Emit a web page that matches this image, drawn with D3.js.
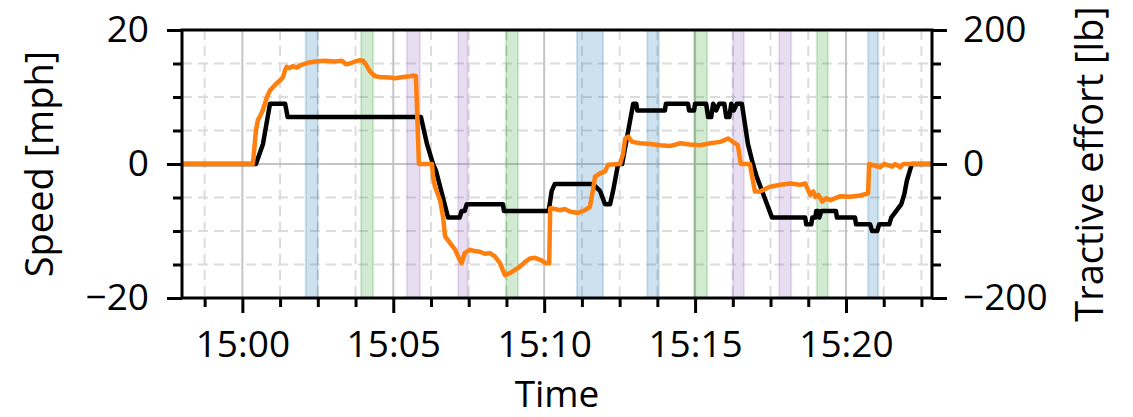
<!DOCTYPE html>
<html>
<head>
<meta charset="utf-8">
<script src="https://cdn.jsdelivr.net/npm/d3@7"></script>
<style>
  body { margin: 0; background: #fff; }
  text { font-family: "Open Sans", sans-serif; fill: #000; }
</style>
</head>
<body>
<svg id="svg" width="1133" height="417"></svg>
<script>
// speed trace (black, left axis)
const speedTimes = ["14:58:00","15:00:27","15:00:41","15:00:55","15:01:25","15:01:30","15:05:55","15:06:07",
  "15:06:19","15:06:25","15:06:49","15:07:12","15:07:16","15:07:22","15:07:26","15:08:38","15:08:40",
  "15:10:09","15:10:15","15:10:21","15:11:37","15:11:51","15:12:01","15:12:11","15:12:17","15:12:27",
  "15:12:35","15:12:57","15:13:03","15:13:05","15:14:00","15:14:02","15:14:46","15:14:48","15:14:58",
  "15:15:00","15:15:22","15:15:26","15:15:32","15:15:36","15:15:42","15:15:48","15:15:58","15:16:02",
  "15:16:08","15:16:12","15:16:17","15:16:23","15:16:33","15:16:45","15:16:55","15:17:03","15:17:33",
  "15:18:39","15:18:41","15:18:51","15:18:53","15:18:59","15:19:01","15:19:05","15:19:07","15:19:11",
  "15:19:40","15:19:42","15:20:18","15:20:20","15:20:48","15:20:52","15:21:02","15:21:06","15:21:26",
  "15:21:30","15:21:40","15:21:50","15:21:56","15:22:01","15:22:07","15:22:11","15:22:51"];
const speedMph = [0,0,3,9,9,7,7,3,
  0,-1,-8,-8,-7,-7,-6,-6,-7,
  -7,-4,-3,-3,-4,-6,-6,-4,0,
  0,9,9,8,8,9,9,8,8,
  9,9,7,7,9,8,9,9,7,
  7,9,8,9,9,3,0,-2,-8,
  -8,-9,-9,-8,-8,-7,-7,-8,-7,
  -7,-8,-8,-9,-9,-10,-10,-9,-9,
  -8,-7,-6,-4.5,-2.5,-1,0,0];

// tractive effort trace (orange, right axis)
const effortTimes = ["14:58:00","15:00:21","15:00:27","15:00:31","15:00:35","15:00:41","15:00:49","15:00:55",
  "15:01:05","15:01:15","15:01:21","15:01:25","15:01:28","15:01:34","15:01:40","15:01:48","15:01:58",
  "15:02:10","15:02:24","15:02:44","15:03:04","15:03:18","15:03:26","15:03:34","15:03:44","15:03:54",
  "15:04:00","15:04:06","15:04:14","15:04:24","15:04:33","15:04:53","15:05:03","15:05:13","15:05:33",
  "15:05:41","15:05:45","15:05:51","15:06:17","15:06:19","15:06:23","15:06:33","15:06:39","15:06:43",
  "15:06:53","15:07:03","15:07:12","15:07:16","15:07:22","15:07:32","15:07:42","15:07:52","15:08:02",
  "15:08:12","15:08:22","15:08:32","15:08:42","15:08:52","15:09:02","15:09:12","15:09:22","15:09:32",
  "15:09:42","15:09:52","15:10:04","15:10:10","15:10:12","15:10:21","15:10:31","15:10:41","15:10:51",
  "15:11:07","15:11:21","15:11:31","15:11:37","15:11:41","15:11:51","15:12:01","15:12:07","15:12:31",
  "15:12:37","15:12:41","15:12:47","15:12:55","15:13:11","15:13:31","15:13:51","15:14:11","15:14:31",
  "15:14:50","15:15:10","15:15:30","15:15:50","15:16:06","15:16:19","15:16:25","15:16:31","15:16:49",
  "15:16:59","15:17:09","15:17:29","15:17:49","15:18:09","15:18:29","15:18:39","15:18:49","15:18:55",
  "15:18:59","15:19:05","15:19:13","15:19:21","15:19:29","15:19:49","15:20:08","15:20:28","15:20:44",
  "15:20:46","15:21:08","15:21:16","15:21:32","15:21:38","15:21:48","15:21:54","15:22:51"];
const effortLb = [0,0,50,66,71,81,100,110,
  118,125,130,140,145,143,146,144,148,
  151,153,154,153,154,149,150,153,155,
  154,148,138,131,130,129,128,129,131,
  132,131,0,0,-19,-34,-54,-79,-108,
  -118,-128,-143,-148,-133,-128,-130,-131,-134,
  -133,-138,-148,-166,-163,-158,-153,-146,-141,
  -140,-143,-148,-148,-66,-67,-69,-67,-71,
  -73,-69,-64,-39,-19,-14,-11,-1,0,
  16,38,41,33,31,30,28,27,31,
  29,28,31,33,38,31,28,0,0,
  -41,-41,-34,-31,-29,-31,-29,-46,-41,
  -49,-46,-56,-51,-54,-48,-49,-47,-44,
  0,-5,0,-4,0,-5,0,0];

// shaded intervals
const bandStart = ["15:02:06","15:03:56","15:05:27","15:07:09","15:08:44","15:11:05",
  "15:13:25","15:14:58","15:16:15","15:17:47","15:19:02","15:20:44"];
const bandEnd = ["15:02:30","15:04:20","15:05:53","15:07:28","15:09:08","15:11:57",
  "15:13:48","15:15:24","15:16:37","15:18:11","15:19:24","15:21:04"];
const bandGroup = ["a","b","c","c","b","a","a","b","c","c","b","a"];

const xLimits = ["14:58:00", "15:22:51"];
const speedTicks = [-20, 0, 20];
const effortTicks = [-200, 0, 200];

const groupColor = {a: "#1f77b4", b: "#2ca02c", c: "#9467bd"};
const parse = d3.timeParse("%H:%M:%S");

const W = 1133, H = 417;
const m = {left: 182, right: 201, top: 30, bottom: 119};
const svg = d3.select("svg#svg");

const x = d3.scaleTime().domain(xLimits.map(parse)).range([m.left, W - m.right]);
const y = d3.scaleLinear().domain([-20, 20]).range([H - m.bottom, m.top]);
const y2 = d3.scaleLinear().domain([-200, 200]).range([H - m.bottom, m.top]);

// ticks: major every 5 min, minor every 75 s
const t0 = parse("15:00:00").getTime();
const [xa, xb] = x.domain();
const majorX = d3.timeMinute.every(5).range(xa, xb);
const minorX = d3.range(-4, 24).map(i => new Date(t0 + i * 75000))
    .filter(d => d >= xa && d <= xb && !majorX.some(t => +t === +d));
const minorY = d3.range(-20, 21, 5).filter(v => !speedTicks.includes(v));

// grid
const grid = svg.append("g");
grid.selectAll("line.minx").data(minorX).enter().append("line")
    .attr("x1", d => x(d)).attr("x2", d => x(d)).attr("y1", m.top).attr("y2", H - m.bottom)
    .attr("stroke", "#dcdcdc").attr("stroke-width", 2).attr("stroke-dasharray", "10,6");
grid.selectAll("line.miny").data(minorY).enter().append("line")
    .attr("y1", d => y(d)).attr("y2", d => y(d)).attr("x1", m.left).attr("x2", W - m.right)
    .attr("stroke", "#dcdcdc").attr("stroke-width", 2).attr("stroke-dasharray", "10,6");
grid.selectAll("line.majx").data(majorX).enter().append("line")
    .attr("x1", d => x(d)).attr("x2", d => x(d)).attr("y1", m.top).attr("y2", H - m.bottom)
    .attr("stroke", "#c4c4c4").attr("stroke-width", 2);
grid.selectAll("line.majy").data(speedTicks).enter().append("line")
    .attr("y1", d => y(d)).attr("y2", d => y(d)).attr("x1", m.left).attr("x2", W - m.right)
    .attr("stroke", "#c4c4c4").attr("stroke-width", 2);

// bands
svg.append("g").selectAll("rect").data(bandStart.map((s, i) => ({s: parse(s), e: parse(bandEnd[i]), g: bandGroup[i]})))
    .enter().append("rect")
    .attr("x", d => x(d.s)).attr("width", d => x(d.e) - x(d.s))
    .attr("y", m.top).attr("height", H - m.bottom - m.top)
    .attr("fill", d => groupColor[d.g]).attr("fill-opacity", 0.22)
    .attr("stroke", d => groupColor[d.g]).attr("stroke-opacity", 0.2).attr("stroke-width", 2);

// traces
const clip = svg.append("clipPath").attr("id", "clip").append("rect")
    .attr("x", m.left).attr("y", m.top).attr("width", W - m.left - m.right).attr("height", H - m.top - m.bottom);
const speed = speedTimes.map((t, i) => [parse(t), speedMph[i]]);
const effort = effortTimes.map((t, i) => [parse(t), effortLb[i]]);
svg.append("path").datum(speed).attr("clip-path", "url(#clip)")
    .attr("d", d3.line().x(d => x(d[0])).y(d => y(d[1])))
    .attr("fill", "none").attr("stroke", "#000").attr("stroke-width", 4.5).attr("stroke-linejoin", "round");
svg.append("path").datum(effort).attr("clip-path", "url(#clip)")
    .attr("d", d3.line().x(d => x(d[0])).y(d => y2(d[1])))
    .attr("fill", "none").attr("stroke", "#ff7f0e").attr("stroke-width", 4.5).attr("stroke-linejoin", "round");

// axes
function style(g) {
    g.select(".domain").remove();
    g.selectAll("line").attr("stroke", "#000").attr("stroke-width", 3);
    g.selectAll("text").attr("font-size", 37).attr("font-family", "Open Sans");
}
const fmt = d3.timeFormat("%H:%M");
const minus = v => v < 0 ? "\u2212" + Math.abs(v) : String(v);

svg.append("g").attr("transform", `translate(0,${H - m.bottom})`)
    .call(d3.axisBottom(x).tickValues(minorX).tickSize(9).tickFormat(""))
    .call(style);
svg.append("g").attr("transform", `translate(0,${H - m.bottom})`)
    .call(d3.axisBottom(x).tickValues(majorX).tickSize(15).tickPadding(18).tickFormat(fmt))
    .call(style);
svg.append("g").attr("transform", `translate(${m.left},0)`)
    .call(d3.axisLeft(y).tickValues(minorY).tickSize(9).tickFormat(""))
    .call(style);
svg.append("g").attr("transform", `translate(${m.left},0)`)
    .call(d3.axisLeft(y).tickValues(speedTicks).tickSize(15).tickPadding(18).tickFormat(minus))
    .call(style);
svg.append("g").attr("transform", `translate(${W - m.right},0)`)
    .call(d3.axisRight(y2).tickValues(minorY.map(v => v * 10)).tickSize(9).tickFormat(""))
    .call(style);
svg.append("g").attr("transform", `translate(${W - m.right},0)`)
    .call(d3.axisRight(y2).tickValues(effortTicks).tickSize(15).tickPadding(16).tickFormat(minus))
    .call(style);

// frame
svg.append("rect").attr("x", m.left).attr("y", m.top)
    .attr("width", W - m.left - m.right).attr("height", H - m.top - m.bottom)
    .attr("fill", "none").attr("stroke", "#000").attr("stroke-width", 3);

// labels
svg.append("text").attr("transform", `translate(53,${(m.top + H - m.bottom) / 2}) rotate(-90)`)
    .attr("text-anchor", "middle").attr("font-size", 38).text("Speed [mph]");
svg.append("text").attr("transform", `translate(1103,${(m.top + H - m.bottom) / 2}) rotate(-90)`)
    .attr("text-anchor", "middle").attr("font-size", 38).text("Tractive effort [lb]");
svg.append("text").attr("x", (m.left + W - m.right) / 2).attr("y", 407)
    .attr("text-anchor", "middle").attr("font-size", 37).text("Time");
</script>
</body>
</html>
